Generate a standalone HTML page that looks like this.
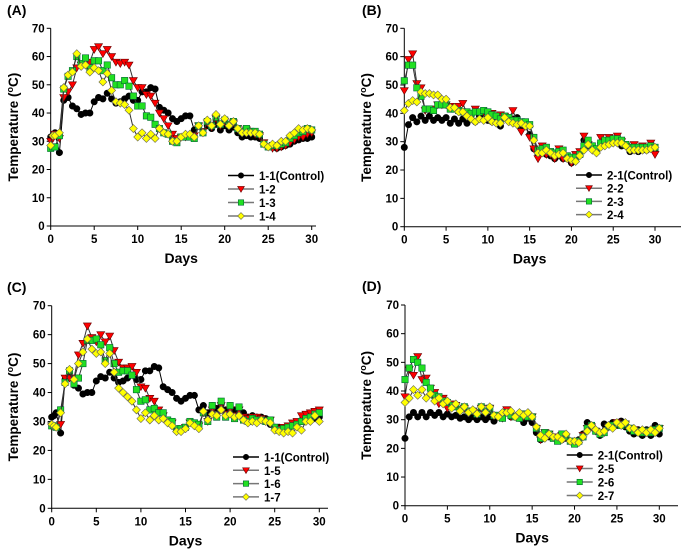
<!DOCTYPE html>
<html><head><meta charset="utf-8"><style>
html,body{margin:0;padding:0;background:#fff;}
svg{display:block;font-family:"Liberation Sans",Arial,sans-serif;font-weight:bold;}
</style></head><body>
<svg id="chart" width="685" height="552" viewBox="0 0 685 552" xmlns="http://www.w3.org/2000/svg"></svg>
<script>
const daysQ = [0,0.25,0.5,1,1.5,2,2.5,3,3.5,4,4.5,5,5.5,6,6.5,7,7.5,8,8.5,9,9.5,10,10.5,11,11.5,12,12.5,13,13.5,14,14.5,15,15.5,16,16.5,17,17.5,18,18.5,19,19.5,20,20.5,21,21.5,22,22.5,23,23.5,24,24.5,25,25.5,26,26.5,27,27.5,28,28.5,29,29.5,30];
const daysH = [0,0.5,1,1.5,2,2.5,3,3.5,4,4.5,5,5.5,6,6.5,7,7.5,8,8.5,9,9.5,10,10.5,11,11.5,12,12.5,13,13.5,14,14.5,15,15.5,16,16.5,17,17.5,18,18.5,19,19.5,20,20.5,21,21.5,22,22.5,23,23.5,24,24.5,25,25.5,26,26.5,27,27.5,28,28.5,29,29.5,30];
const yTicks = [0,10,20,30,40,50,60,70];
const xTicks = [0,5,10,15,20,25,30];

const s11 = [31.5,32,33,26,44.5,45.5,42.5,41.5,39.5,40,40,44,45.5,45,47,45,43.5,44,45,46,44.5,44.5,47.5,47.5,49,48.5,42,41,40,38,37,38,39,39,34,35.5,33,35.5,34.5,36,34,35.5,34,35,33,31.5,32,31.5,31.5,31,29,28,28,27.5,28,28.5,29,30,30.5,31,31,31.5];
const s12 = [30,31,32.5,31,45.5,47.5,50,56,57,57,58,62.5,63.5,61,62.5,60,58,57.5,58,57,51.5,49,49,46.5,46,43.5,40,38,35.5,32.5,31,31.5,31.5,32,32,35.5,33.5,36.5,35,38,35.5,37,35.5,36.5,34.5,33.5,34,33,32.5,32,29.5,28,27.5,27.5,28,28.5,29.5,30.5,31.5,31.5,32.5,33];
const s13 = [27.5,28,28,32,48.5,53,55,60,57.5,59.5,56,58.5,58.5,55,57,52.5,50,50,51.5,49.5,46,42.5,42.5,39,38.5,36,34.5,33,32.5,30,29.5,31.5,31.5,31.5,31,35.5,33,37,35.5,38.5,36,37.5,36,37,34.5,33.5,34.5,33.5,33.5,32.5,29,28,28.5,28.5,29,29.5,31,32,33,33.5,34.5,34];
const s14 = [28.5,32,32,33,49,53.5,54.5,61,56.5,57,54.5,56,55,51,54,48,44,43.5,43,41,34.5,31.5,33,31,32.5,31,34.5,33,32.5,30,30,31.5,32.5,32.5,31.5,35.5,33,37.5,35.5,39.5,36,38,35.5,37,34.5,33,33,33,33,32.5,29,28,29,28.5,30,30,32,33,34.5,34,34.5,34];

const s21 = [28,36,38.5,37,39,37.5,39,37.5,38.5,37.5,38.5,36.5,38,36.5,38,36.5,38,37,39,38,37.5,37,37,35.5,38.5,37.5,38,38.5,35,35.5,32.5,27.5,25.5,26,25.5,25,24,25,24,24,22.5,24,26,30.5,28.5,28,26.5,29.5,29.5,30,30,30,28.5,28.5,26.5,27,26.5,27,27,28.5,27];
const s22 = [48,59,61,50.5,49,41,41.5,41.5,43,43,43,42.5,42,42.5,43.5,40,39.5,41.5,40,40.5,40,40,38.5,39.5,39,38,41,37,33.5,35.5,31.5,27.5,24,28.5,25.5,25.5,24,27.5,24,24,22.5,25.5,26.5,32,29,27,27,31.5,30,31.5,30,32,30,28.5,27,29,27.5,28.5,27.5,29.5,25.5];
const s23 = [51.5,57,57,49,46,41.5,41.5,41,43,43,43,41.5,41.5,41,40.5,40.5,40,40.5,40.5,41,40.5,39.5,39,38,39,38.5,37.5,37.5,37,37,36,31.5,27,27.5,28,26.5,26,26.5,27,25,24.5,24.5,25.5,28.5,30.5,28.5,27.5,29.5,30.5,30.5,31,31,30.5,29,28,28,28,28,28,28.5,28];
const s24 = [41,43.5,44.5,44,47.5,47,47,46.5,46.5,45,45,42,42,40.5,40.5,39,38,37,38,37.5,38.5,37,36.5,36.5,38.5,37,36.5,36,36.5,35.5,35.5,30.5,26,26,27,26,25,25.5,26,24,23.5,23,25,27,29,27,26,28,28.5,29,29.5,29.5,29.5,28.5,27,27,27,27,27,27.5,28];

const s15 = [28.5,28.5,28,29,45,45,45,53,57,63,59,57.5,60,57.5,59.5,54.5,50.5,48.5,48.5,49,47,42,41.5,38,37,34,32,30,29.5,27.5,27,28,29.5,29,28.5,33,30,34,32,35.5,32.5,34,32,34,31.5,31,31.5,31.5,31,30,30.5,28,27.5,28,28.5,29.5,30,32,32.5,33,33.5,34];
const s16 = [28.5,28.5,28,34,43.5,47.5,43,45,50,58,58,58.5,56.5,51,55.5,50,47,47.5,47.5,46,41,37,37.5,34,34.5,33,33,30.5,30,27.5,27.5,28,30,29.5,29,33,30,35.5,31.5,37,31.5,35.5,31,35,30.5,30,31,30.5,30.5,30,30.5,28,27,27.5,28,28.5,29,30,31,31.5,32.5,33];
const s17 = [29,28.5,28,33,43,48,44.5,50,54,58.5,55,53.5,54,50,53.5,47,41.5,40,38.5,37,34,31,33,30.5,32,30.5,31,29.5,28.5,26.5,26.5,27.5,29.5,28.5,27.5,33.5,30.5,32.5,32,34,32,32.5,31.5,32,30.5,29.5,30,29.5,30.5,30,29.5,27,26.5,26,26.5,26,28,27,30,30,32,30];

const s21d = [23.5,31,32.5,31,32.5,31,32.5,31.5,32.5,31,32,31,31.5,30.5,31,30,31,30,31,30,31,29.5,31.5,30.5,33,31,31,30.5,29,30.5,29,25.5,23,24.5,24,24,23,23,23.5,22.5,22,23,25,29,27.5,26,24.5,28.5,27.5,29,28,29.5,27.5,26,25,26.5,24.5,26.5,24.5,28,25];
const s25 = [38,47.5,45.5,52,44,44.5,41,39.5,35.5,37.5,34,35.5,35,33,34,32.5,33,32.5,34,32.5,34,31.5,31.5,30.5,33.5,31,31,31.5,31,31,31,27,23,25.5,25,24,23,24.5,24,22.5,22,22.5,24.5,27,27.5,26,25.5,25.5,27.5,27.5,29,28,28.5,27,26.5,26,25.5,26,25.5,26.5,27];
const s26 = [44,48,51,50,48,43,41,38.5,38,36.5,36,35,34.5,33.5,34.5,33,33,32,34.5,33,34,31.5,31.5,30.5,32.5,31.5,31,30.5,32,31,31,27,23.5,25.5,25,23.5,22.5,25,24,22.5,21.5,22.5,24,27,28,26,25,25.5,27.5,28,28.5,28,28.5,27,26,26,25.5,26,25.5,26.5,27];
const s27 = [36,37.5,40.5,38.5,40.5,37.5,39,36.5,37.5,35.5,36.5,34,35.5,33,34.5,32.5,33.5,32,34.5,32.5,34.5,31.5,31,32.5,32.5,33,31,32.5,31.5,32.5,31,27.5,24.5,23.5,25,24,24,23,25,22.5,22.5,22,24,26,28,26.5,25.5,26,28,27,29,28,29,27,27,25.5,26.5,25.5,26.5,25.5,27];

const NS = 'http://www.w3.org/2000/svg';
const svg = document.getElementById('chart');
function mk(tag, attrs, parent){
  const e = document.createElementNS(NS, tag);
  for (const k in attrs) e.setAttribute(k, attrs[k]);
  (parent||svg).appendChild(e); return e;
}
const COLORS = {circle:'#000000', tri:'#ff0000', sq:'#22e022', dia:'#ffff00'};
function marker(g, type, x, y, scale){
  const s = scale||1; let e;
  if(type==='circle'){ e = mk('circle',{cx:x,cy:y,r:3.2*s,fill:'#000',stroke:'#000','stroke-width':0.6},g); }
  else if(type==='tri'){ const r=4*s; e = mk('polygon',{points:`${x-r},${y-r*0.75} ${x+r},${y-r*0.75} ${x},${y+r*0.95}`,fill:COLORS.tri,stroke:'#600','stroke-width':0.6},g); }
  else if(type==='sq'){ const r=3.2*s; e = mk('rect',{x:x-r,y:y-r,width:2*r,height:2*r,fill:COLORS.sq,stroke:'#063','stroke-width':0.6},g); }
  else { const r=4*s; e = mk('polygon',{points:`${x},${y-r} ${x+r},${y} ${x},${y+r} ${x-r},${y}`,fill:COLORS.dia,stroke:'#665','stroke-width':0.6},g); }
  return e;
}

function panel(p){
  const g = mk('g',{});
  
  
  const sx = d => p.x0 + (p.x30 - p.x0) * d / 30;
  const sy = v => p.y0 + (p.y70 - p.y0) * v / 70;
  // axes
  const ax = mk('g',{},g);
  
  
  mk('line',{x1:p.x0,y1:p.y70,x2:p.x0,y2:p.y0,stroke:'#000','stroke-width':1},ax);
  mk('line',{x1:p.x0,y1:p.y0,x2:p.xend,y2:p.y0,stroke:'#000','stroke-width':1},ax);
  yTicks.forEach(v=>{
    mk('line',{x1:p.x0-4,y1:sy(v),x2:p.x0,y2:sy(v),stroke:'#000'},ax);
    const t = mk('text',{x:p.x0-6,y:sy(v)+4,'text-anchor':'end','font-size':11.5},ax);
    t.textContent = v;
    
    
  });
  xTicks.forEach(d=>{
    mk('line',{x1:sx(d),y1:p.y0,x2:sx(d),y2:p.y0+4,stroke:'#000'},ax);
    const t = mk('text',{x:sx(d),y:p.y0+17,'text-anchor':'middle','font-size':11.5},ax);
    t.textContent = d;
    
    
  });
  const xt = mk('text',{x:(p.x0+p.x30)/2,y:p.y0+37,'text-anchor':'middle','font-size':14},g);
  xt.textContent = 'Days';
  
  
  const cy = (p.y0+p.y70)/2;
  const yt = mk('text',{x:p.ytx,y:cy,'text-anchor':'middle','font-size':13.5,transform:`rotate(-90 ${p.ytx} ${cy})`},g);
  yt.innerHTML = 'Temperature (<tspan font-size="9" dy="-5">o</tspan><tspan dy="5">C)</tspan>';
  
  
  const pl = mk('text',{x:p.lx,y:p.ly,'font-size':14},g);
  pl.textContent = '('+p.id+')';
  
  
  // series
  p.series.forEach(s=>{
    const sg = mk('g',{},g);
    
    
    const pts = s.vals.map((v,i)=>sx(s.days[i])+','+sy(v)).join(' ');
    mk('polyline',{points:pts,fill:'none',stroke:s.type==='circle'?'#000':'#333','stroke-width':1},sg);
    s.vals.forEach((v,i)=>{
      const m = marker(sg, s.type, sx(s.days[i]), sy(v));
      
      
    });
  });
  // legend
  const lg = mk('g',{},g);
  
  
  p.series.forEach((s,i)=>{
    const y = p.legY + i*p.legDy;
    const e = mk('g',{},lg);
    
    
    mk('line',{x1:p.legX,y1:y,x2:p.legX+26,y2:y,stroke:s.type==='circle'?'#000':'#777','stroke-width':1.5},e);
    marker(e, s.type, p.legX+13, y, 0.85);
    const t = mk('text',{x:p.legX+31,y:y+4.5,'font-size':11.5},e);
    t.textContent = s.name;
  });
}

panel({id:'A',x0:50.7,x30:311.7,xend:316,y0:226,y70:28.3,ytx:18,lx:7,ly:15,legX:228,legY:175.5,legDy:13.5,
  series:[{name:'1-1(Control)',type:'circle',vals:s11,days:daysQ},{name:'1-2',type:'tri',vals:s12,days:daysQ},{name:'1-3',type:'sq',vals:s13,days:daysQ},{name:'1-4',type:'dia',vals:s14,days:daysQ}]});
panel({id:'B',x0:404.3,x30:655,xend:681,y0:226.7,y70:28.3,ytx:371,lx:362,ly:15,legX:576,legY:175,legDy:13.2,
  series:[{name:'2-1(Control)',type:'circle',vals:s21,days:daysH},{name:'2-2',type:'tri',vals:s22,days:daysH},{name:'2-3',type:'sq',vals:s23,days:daysH},{name:'2-4',type:'dia',vals:s24,days:daysH}]});
panel({id:'C',x0:51.7,x30:319.3,xend:328,y0:508.3,y70:305.7,ytx:18,lx:7,ly:292,legX:233,legY:457,legDy:13.3,
  series:[{name:'1-1(Control)',type:'circle',vals:s11,days:daysQ},{name:'1-5',type:'tri',vals:s15,days:daysQ},{name:'1-6',type:'sq',vals:s16,days:daysQ},{name:'1-7',type:'dia',vals:s17,days:daysQ}]});
panel({id:'D',x0:405,x30:659.3,xend:678,y0:505.7,y70:305,ytx:371,lx:362,ly:291,legX:566.7,legY:455,legDy:13.5,
  series:[{name:'2-1(Control)',type:'circle',vals:s21d,days:daysH},{name:'2-5',type:'tri',vals:s25,days:daysH},{name:'2-6',type:'sq',vals:s26,days:daysH},{name:'2-7',type:'dia',vals:s27,days:daysH}]});
</script>
</body></html>
